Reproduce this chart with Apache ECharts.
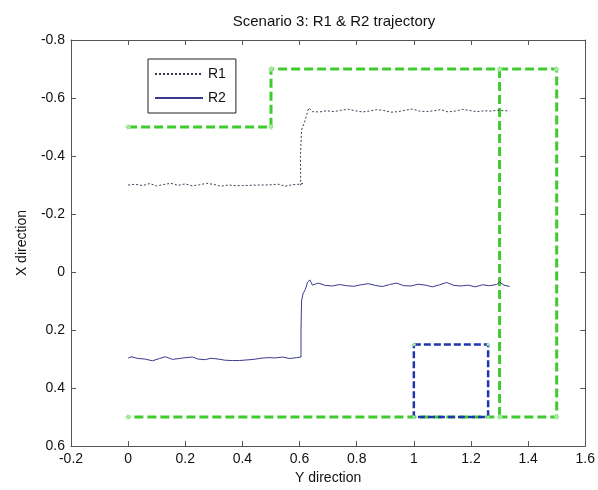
<!DOCTYPE html>
<html>
<head>
<meta charset="utf-8">
<script src="https://cdn.jsdelivr.net/npm/echarts@6/dist/echarts.min.js"></script>
<style>
  html, body { margin: 0; padding: 0; background: #fff; }
  #chart { width: 598px; height: 490px; }
</style>
</head>
<body>
<div id="chart"></div>
<script>
  // R1 trajectory (Y direction, X direction)
  var r1X = [0, 0.025, 0.05, 0.075, 0.1, 0.125, 0.15, 0.175, 0.2, 0.225, 0.25, 0.275, 0.3, 0.325, 0.35, 0.375, 0.4, 0.425, 0.45, 0.475, 0.5, 0.525, 0.55, 0.575, 0.6, 0.612, 0.604, 0.603, 0.607, 0.62, 0.632, 0.645,
    0.67, 0.695, 0.72, 0.745, 0.77, 0.795, 0.82, 0.845, 0.87, 0.895, 0.92, 0.945, 0.97, 0.995, 1.02, 1.045, 1.07, 1.095, 1.12, 1.145, 1.17, 1.195, 1.22, 1.245, 1.27, 1.295, 1.315, 1.335];
  var r1Y = [-0.300, -0.303, -0.298, -0.305, -0.297, -0.302, -0.306, -0.299, -0.304, -0.297, -0.301, -0.306, -0.302, -0.296, -0.300, -0.298, -0.298, -0.299, -0.300, -0.300, -0.301, -0.303, -0.296, -0.301, -0.303, -0.306, -0.300, -0.40, -0.49, -0.525, -0.566, -0.553,
    -0.552, -0.556, -0.553, -0.558, -0.561, -0.556, -0.552, -0.555, -0.560, -0.557, -0.551, -0.553, -0.558, -0.562, -0.555, -0.553, -0.556, -0.560, -0.552, -0.555, -0.561, -0.557, -0.553, -0.556, -0.555, -0.558, -0.556, -0.556];

  // R2 trajectory
  var r2X = [0, 0.01, 0.035, 0.06, 0.085, 0.11, 0.13, 0.155, 0.18, 0.2, 0.225, 0.245, 0.27, 0.29, 0.315, 0.34, 0.365, 0.39, 0.415, 0.44, 0.465, 0.49, 0.515, 0.54, 0.565, 0.59, 0.605, 0.605, 0.607, 0.612, 0.62, 0.628, 0.636, 0.645,
    0.665, 0.69, 0.715, 0.74, 0.765, 0.79, 0.815, 0.84, 0.865, 0.89, 0.915, 0.94, 0.965, 0.99, 1.015, 1.04, 1.065, 1.09, 1.115, 1.14, 1.165, 1.19, 1.215, 1.24, 1.265, 1.29, 1.3, 1.315, 1.335];
  var r2Y = [0.297, 0.292, 0.298, 0.300, 0.306, 0.298, 0.292, 0.301, 0.298, 0.295, 0.293, 0.300, 0.302, 0.297, 0.300, 0.304, 0.305, 0.305, 0.303, 0.301, 0.297, 0.295, 0.296, 0.293, 0.298, 0.295, 0.293, 0.20, 0.10, 0.075, 0.06, 0.035, 0.027, 0.045,
    0.038, 0.046, 0.048, 0.043, 0.047, 0.049, 0.044, 0.040, 0.046, 0.050, 0.043, 0.038, 0.047, 0.048, 0.042, 0.045, 0.051, 0.044, 0.036, 0.046, 0.048, 0.045, 0.051, 0.044, 0.047, 0.043, 0.034, 0.045, 0.050];

  // planned path (green) and target square (blue)
  var pathX = [0, 0.5, 0.5, 1.5, 1.5, 0];
  var pathY = [-0.5, -0.5, -0.7, -0.7, 0.5, 0.5];
  var branchX = [1.3, 1.3];
  var branchY = [-0.7, 0.5];
  var boxX = [1.0, 1.26, 1.26, 1.0, 1.0];
  var boxY = [0.25, 0.25, 0.5, 0.5, 0.25];

  var xTicks = [-0.2, 1.6, 0.2];
  var yTicks = [-0.8, 0.6, 0.2];

  function zip(xs, ys) {
    return xs.map(function (x, i) { return [x, ys[i]]; });
  }

  var font = 'Liberation Sans, Arial, sans-serif';
  var axisColor = '#555';

  function xAxisOf(pos, showLabel) {
    return {
      type: 'value', position: pos,
      min: xTicks[0], max: xTicks[1], interval: xTicks[2],
      name: pos === 'bottom' ? 'Y direction' : '',
      nameLocation: 'middle', nameGap: 24,
      nameTextStyle: { fontFamily: font, fontSize: 14, color: '#111' },
      axisLine: { show: true, onZero: false, lineStyle: { color: axisColor } },
      axisTick: { show: true, inside: true, length: 5, lineStyle: { color: axisColor } },
      axisLabel: { show: showLabel, fontFamily: font, fontSize: 14, color: '#111', margin: 6 },
      splitLine: { show: false }
    };
  }
  function yAxisOf(pos, showLabel) {
    return {
      type: 'value', position: pos, inverse: true,
      min: yTicks[0], max: yTicks[1], interval: yTicks[2],
      name: pos === 'left' ? 'X direction' : '',
      nameLocation: 'middle', nameGap: 42,
      nameTextStyle: { fontFamily: font, fontSize: 14, color: '#111' },
      axisLine: { show: true, onZero: false, lineStyle: { color: axisColor } },
      axisTick: { show: true, inside: true, length: 5, lineStyle: { color: axisColor } },
      axisLabel: { show: showLabel, fontFamily: font, fontSize: 14, color: '#111', margin: 6 },
      splitLine: { show: false }
    };
  }

  var green = '#3fcb2e';
  var marker = { symbol: 'diamond', symbolSize: 6, itemStyle: { color: '#a6e8a0' } };

  var option = {
    animation: false,
    backgroundColor: '#fff',
    title: {
      text: 'Scenario 3: R1 & R2 trajectory',
      left: 329, top: 9, textAlign: 'center',
      textStyle: { fontFamily: font, fontSize: 15, fontWeight: 'normal', color: '#111' }
    },
    grid: { left: 71, top: 40, right: 11, bottom: 41 },
    legend: {
      data: ['R1', 'R2'],
      orient: 'vertical', left: 148, top: 59,
      itemWidth: 48, itemHeight: 10, itemGap: 10,
      padding: [8, 10, 8, 6],
      borderColor: '#222', borderWidth: 1,
      itemStyle: { color: 'rgba(0,0,0,0)', borderWidth: 0, opacity: 0 },
      textStyle: { fontFamily: font, fontSize: 14, color: '#111' }
    },
    xAxis: [xAxisOf('bottom', true), xAxisOf('top', false)],
    yAxis: [yAxisOf('left', true), yAxisOf('right', false)],
    series: [
      {
        name: 'path', type: 'line', data: zip(pathX, pathY),
        symbol: marker.symbol, symbolSize: marker.symbolSize, itemStyle: marker.itemStyle,
        lineStyle: { color: green, width: 3, type: [9, 4] }, z: 3
      },
      {
        name: 'branch', type: 'line', data: zip(branchX, branchY),
        symbol: marker.symbol, symbolSize: marker.symbolSize, itemStyle: marker.itemStyle,
        lineStyle: { color: green, width: 3, type: [9, 4] }, z: 3
      },
      {
        name: 'box', type: 'line', data: zip(boxX, boxY),
        symbol: marker.symbol, symbolSize: 4, itemStyle: marker.itemStyle,
        lineStyle: { color: '#1f36b0', width: 2.5, type: [7, 3] }, z: 10, zlevel: 1
      },
      {
        name: 'R1', type: 'line', data: zip(r1X, r1Y), symbol: 'none',
        itemStyle: { color: '#3b3b55' },
        lineStyle: { color: '#3b3b55', width: 1, type: [2, 2] }, z: 5
      },
      {
        name: 'R2', type: 'line', data: zip(r2X, r2Y), symbol: 'none',
        itemStyle: { color: '#3a3a8e' },
        lineStyle: { color: '#3a3a8e', width: 1 }, z: 5
      }
    ]
  };

  var myChart = echarts.init(document.getElementById('chart'));
  myChart.setOption(option);
</script>
</body>
</html>
